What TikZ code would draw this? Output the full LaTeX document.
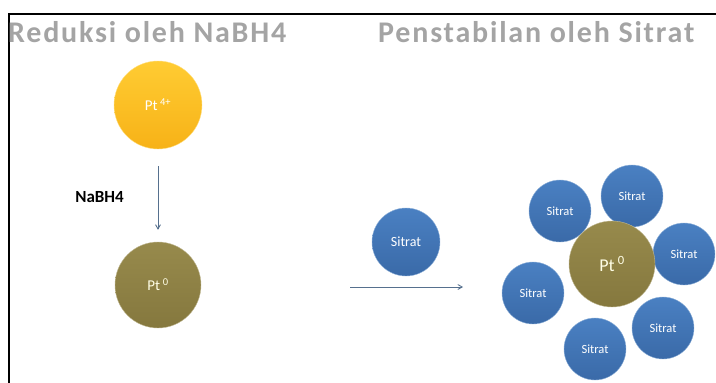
\documentclass[tikz,border=0pt]{standalone}
\usepackage{fontspec}
\setmainfont{Carlito}
\usetikzlibrary{arrows}
\definecolor{ptgold}{HTML}{F7B217}
\definecolor{ptgoldtop}{HTML}{FFCC33}
\definecolor{ptolive}{HTML}{978A4C}
\definecolor{ptolivedark}{HTML}{85783E}
\definecolor{sitblue}{HTML}{4A80C2}
\definecolor{sitbluedark}{HTML}{3A6AA8}
\definecolor{arrowgrey}{HTML}{56708E}
\definecolor{titlegrey}{HTML}{A4A4A4}

\begin{document}
\begin{tikzpicture}[x=1pt,y=-1pt,
  ion/.style={circle,inner sep=0pt,minimum size=88pt,text=white,
    top color=ptgoldtop,bottom color=ptgold,draw=ptgoldtop!60!white,font=\fontsize{15}{15}\selectfont},
  metal/.style={circle,inner sep=0pt,minimum size=86pt,text=white!90!yellow,
    top color=ptolive,bottom color=ptolivedark,draw=ptolive!60!white,font=\fontsize{15}{15}\selectfont},
  ligand/.style={circle,inner sep=0pt,minimum size=62pt,text=white,
    top color=sitblue,bottom color=sitbluedark,draw=sitblue!60!white,font=\fontsize{12.5}{12.5}\selectfont},
  flow/.style={-angle 60,draw=arrowgrey,line width=0.9pt},
  heading/.style={anchor=base west,inner sep=0pt,text=titlegrey,
    font=\fontsize{30}{30}\selectfont\bfseries\addfontfeatures{LetterSpace=6}}]
 \useasboundingbox (0,0) rectangle (716,383);
 % frame
 \draw[line width=1.6pt] (9,383) -- (9,14) -- (716,14);
 \node[heading] (judul1) at (8,42) {Reduksi oleh NaBH4};
 \node[heading] (judul2) at (378,42) {Penstabilan oleh Sitrat};
 % reduksi
 \node[ion] (pt4) at (158,105) {Pt\,\textsuperscript{4+}};
 \node[metal] (pt0) at (158,285) {Pt\,\textsuperscript{0}};
 \draw[flow,shorten <=17pt,shorten >=12pt] (pt4) -- (pt0);
 \node[anchor=east,inner sep=0pt,font=\fontsize{17}{17}\selectfont\bfseries] (nabh) at (124,197) {NaBH4};
 % penstabilan
 \node[ligand,minimum size=68pt,font=\fontsize{14}{14}\selectfont] (sit) at (406,242) {Sitrat};
 \coordinate (mulai) at (350,287);
 \coordinate (akhir) at (463,287);
 \draw[flow] (mulai) -- (akhir);
 \node[ligand] (s1) at (560,211) {Sitrat};
 \node[ligand] (s2) at (632,196) {Sitrat};
 \node[ligand] (s3) at (684,254) {Sitrat};
 \node[ligand] (s4) at (533,293) {Sitrat};
 \node[ligand] (s5) at (663,328) {Sitrat};
 \node[ligand] (s6) at (595,349) {Sitrat};
 \node[metal,font=\fontsize{18}{18}\selectfont] (pusat) at (612,264) {Pt\,\textsuperscript{0}};
\end{tikzpicture}
\end{document}
